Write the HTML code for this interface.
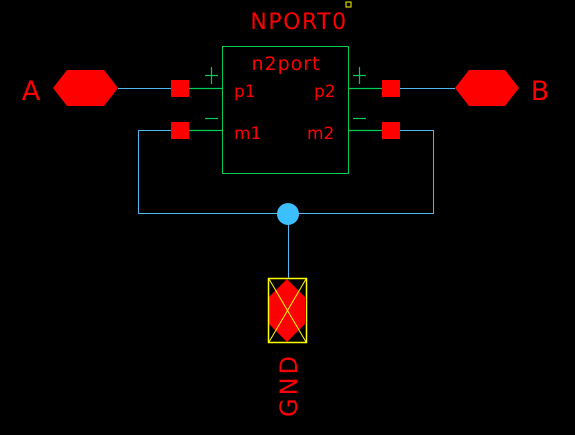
<!DOCTYPE html>
<html><head><meta charset="utf-8"><style>
html,body{margin:0;padding:0;background:#000;width:575px;height:435px;overflow:hidden}
text{font-family:"DejaVu Sans","Liberation Sans",sans-serif;fill:#ff0000}
</style></head><body>
<svg width="575" height="435" viewBox="0 0 575 435">
<rect x="346" y="2" width="5" height="5" fill="none" stroke="#ffff00" stroke-width="1"/>
<text x="299" y="29" font-size="22" letter-spacing="1.5" text-anchor="middle">NPORT0</text>
<g>
<rect x="222.5" y="46.5" width="126" height="127" fill="none" stroke="#00cc55" stroke-width="1"/>
<text x="286" y="70" font-size="19" letter-spacing="1" text-anchor="middle">n2port</text>
<text x="234" y="97" font-size="17">p1</text>
<text x="314" y="97" font-size="17">p2</text>
<text x="234" y="139" font-size="17">m1</text>
<text x="307" y="139" font-size="17">m2</text>
<g stroke="#00cc55" stroke-width="1.2">
<line x1="189" y1="88.5" x2="222" y2="88.5"/><line x1="189" y1="130.5" x2="222" y2="130.5"/>
<line x1="349" y1="88.5" x2="382" y2="88.5"/><line x1="349" y1="130.5" x2="382" y2="130.5"/>
<line x1="205" y1="75.5" x2="218" y2="75.5"/><line x1="211.5" y1="67" x2="211.5" y2="84"/>
<line x1="353" y1="75.5" x2="366" y2="75.5"/><line x1="359.5" y1="67" x2="359.5" y2="84"/>
<line x1="205" y1="118.5" x2="218" y2="118.5"/><line x1="353" y1="118.5" x2="366" y2="118.5"/>
</g>
</g>
<g fill="#ff0000">
<rect x="171" y="80" width="18" height="17"/><rect x="171" y="122" width="18" height="17"/>
<rect x="382" y="80" width="18" height="17"/><rect x="382" y="122" width="18" height="17"/>
</g>
<g stroke="#4fb8f0" stroke-width="1" fill="none">
<line x1="118" y1="88.5" x2="171" y2="88.5"/>
<line x1="400" y1="88.5" x2="455" y2="88.5"/>
<polyline points="171,130.5 138.5,130.5 138.5,213.5 433.5,213.5 433.5,130.5 400,130.5"/>
<line x1="288.5" y1="214" x2="288.5" y2="278"/>
</g>
<circle cx="288" cy="214" r="11" fill="#3cbfff"/>
<polygon points="53,88 67,70 104,70 118,88 104,106 67,106" fill="#ff0000"/>
<polygon points="455,88 469,70 505,70 519,88 505,106 469,106" fill="#ff0000"/>
<text x="31" y="100" font-size="27" text-anchor="middle">A</text>
<text x="540" y="100" font-size="27" text-anchor="middle">B</text>
<g>
<polygon points="287,279 305,297 305,324 287,342 269,324 269,297" fill="#ff0000"/>
<rect x="268.5" y="278.5" width="38" height="64" fill="none" stroke="#ffff00" stroke-width="1.5"/>
<line x1="269" y1="279" x2="306" y2="342" stroke="#ffff00" stroke-width="1"/>
<line x1="306" y1="279" x2="269" y2="342" stroke="#ffff00" stroke-width="1"/>
</g>
<text transform="translate(297,385) rotate(-90)" font-size="24" letter-spacing="3" text-anchor="middle">GND</text>
</svg>
</body></html>
